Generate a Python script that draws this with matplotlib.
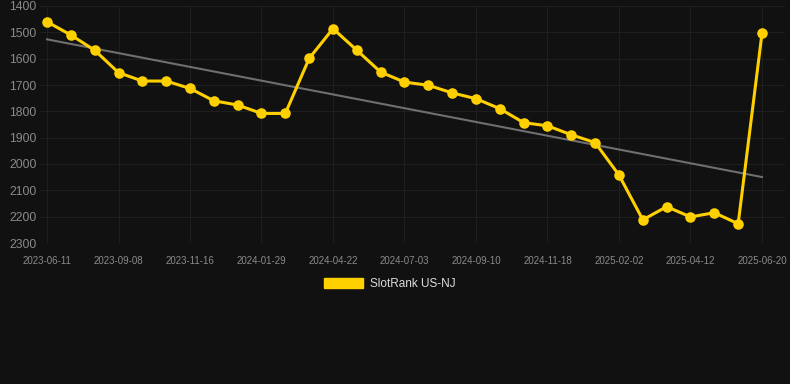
import numpy as np
import matplotlib
matplotlib.use("Agg")
import matplotlib.pyplot as plt
from matplotlib.patches import Patch

plt.rcParams["font.family"] = ["Liberation Sans", "DejaVu Sans"]

tick_labels = ["2023-06-11", "2023-09-08", "2023-11-16", "2024-01-29", "2024-04-22",
               "2024-07-03", "2024-09-10", "2024-11-18", "2025-02-02", "2025-04-12",
               "2025-06-20"]
ranks = [1460, 1510, 1568, 1653, 1685, 1685, 1713, 1760, 1776, 1808, 1808,
         1599, 1486, 1568, 1651, 1689, 1701, 1730, 1752, 1790, 1843, 1855,
         1889, 1919, 2042, 2212, 2162, 2201, 2185, 2227, 1504]
series_name = "SlotRank US-NJ"

bg = "#111111"
fig = plt.figure(figsize=(7.9, 3.84), dpi=100, facecolor=bg)
ax = fig.add_axes([40/790, 1-243/384, (785-40)/790, (243-6)/384])
ax.set_facecolor(bg)

x = np.arange(len(ranks))
coef = np.polyfit(x, ranks, 1)
ax.plot(x, np.polyval(coef, x), color="#6f6f6f", lw=1.5, zorder=2)
ax.plot(x, ranks, color="#FFD000", lw=2.2, marker="o", ms=7.6, mew=0, zorder=3,
        solid_capstyle="round")

ax.set_xlim(-(47-40)/23.83, 30 + (785-762)/23.83)
ax.set_ylim(2300, 1400)
ax.set_yticks(np.arange(1400, 2301, 100))
ax.set_xticks(x[::3])
ax.set_xticklabels(tick_labels)
ax.grid(True, color="#1f1f1f", lw=0.8)
ax.set_axisbelow(True)
for s in ax.spines.values():
    s.set_visible(False)
ax.tick_params(axis="y", length=0, labelsize=8.7, labelcolor="#8a8a8a", pad=2.5)
ax.tick_params(axis="x", length=0, labelsize=7, labelcolor="#8a8a8a", pad=9.5)
ax.axhline(2300, color="#2e2e2e", lw=0.8)

leg = fig.legend(handles=[Patch(facecolor="#FFD000", edgecolor="#FFD000")],
                 labels=[series_name], loc="center", bbox_to_anchor=(390/790, 1-284/384),
                 frameon=False, handlelength=3.3, handleheight=1.0, fontsize=8.5,
                 labelcolor="#dddddd", handletextpad=0.55)

fig.savefig("out.png", dpi=100, facecolor=bg)
